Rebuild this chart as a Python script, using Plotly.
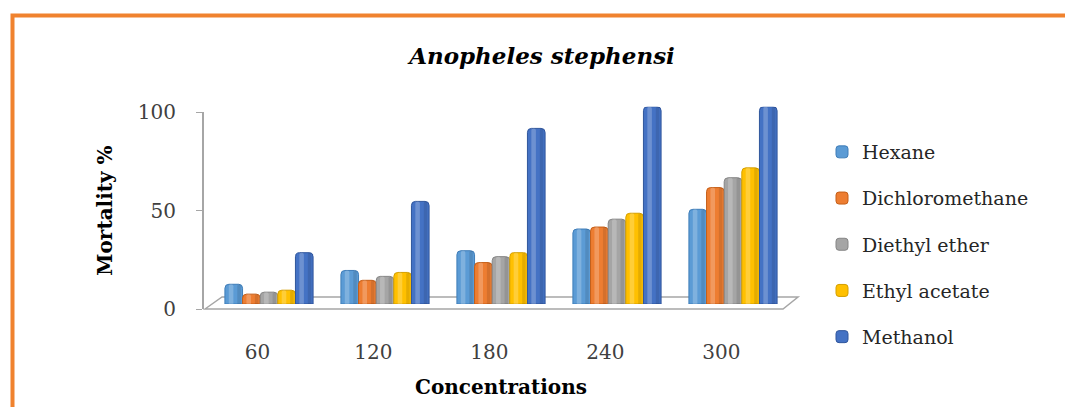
import plotly.graph_objects as go

# Larvicidal activity against Anopheles stephensi
concentrations = ["60", "120", "180", "240", "300"]
hexane = [10, 17, 27, 38, 48]
dichloromethane = [5, 12, 21, 39, 59]
diethyl_ether = [6, 14, 24, 43, 64]
ethyl_acetate = [7, 16, 26, 46, 69]
methanol = [26, 52, 89, 100, 100]

series = [
    ("Hexane", hexane, "#5B9BD5", "#3F7DB8"),
    ("Dichloromethane", dichloromethane, "#ED7D31", "#C55F18"),
    ("Diethyl ether", diethyl_ether, "#A5A5A5", "#858585"),
    ("Ethyl acetate", ethyl_acetate, "#FFC000", "#D49F00"),
    ("Methanol", methanol, "#4472C4", "#2F559C"),
]

W, H = 1065, 407
FONT = "DejaVu Serif"
BARGAP = 0.24


def px_x(v):
    return v / W


def px_y(v):
    return 1 - v / H


idx = list(range(len(concentrations)))

fig = go.Figure()
for name, vals, color, edge in series:
    fig.add_trace(go.Bar(
        x=idx, y=vals, name=name, legendgroup=name,
        marker=dict(color=color, line=dict(color=edge, width=1), cornerradius=4),
        hoverinfo="y+name",
    ))

# cylinder shading: light and dark strips laid over each bar on a twin x axis
slot = (1 - BARGAP) / len(series)
for k, (name, vals, color, edge) in enumerate(series):
    left = -(1 - BARGAP) / 2 + k * slot
    fig.add_trace(go.Bar(
        x=idx, y=vals, xaxis="x2", offset=left + 0.22 * slot, width=0.26 * slot,
        marker=dict(color="rgba(255,255,255,0.22)", line=dict(width=0), cornerradius=2),
        showlegend=False, hoverinfo="skip",
    ))
    fig.add_trace(go.Bar(
        x=idx, y=vals, xaxis="x2", offset=left + 0.70 * slot, width=0.2 * slot,
        marker=dict(color="rgba(0,0,0,0.10)", line=dict(width=0), cornerradius=2),
        showlegend=False, hoverinfo="skip",
    ))

# invisible companion trace that carries the value axis
fig.add_trace(go.Scatter(
    x=idx, y=methanol, yaxis="y2", mode="markers",
    marker=dict(opacity=0), showlegend=False, hoverinfo="skip",
))

# plot geometry (pixels)
x_left, x_right = 211, 791          # category band
y_base, y_top = 304, 106.7          # bar 0 and 100
ax_x, ax_bottom, ax_top = 203, 309, 112  # value axis
depth_dx, depth_dy = 17, 12

shapes = [
    # floor of the chart
    dict(type="path", xref="paper", yref="paper", layer="below",
         path=(f"M{px_x(ax_x + 2)},{px_y(ax_bottom)} "
               f"L{px_x(ax_x + 2 + depth_dx)},{px_y(ax_bottom - depth_dy)} "
               f"L{px_x(x_right + 7)},{px_y(ax_bottom - depth_dy)} "
               f"L{px_x(x_right + 7 - 15)},{px_y(ax_bottom)} Z"),
         line=dict(color="#A6A6A6", width=1.5), fillcolor="rgba(255,255,255,0)"),
    # chart frame
    dict(type="rect", xref="paper", yref="paper",
         x0=px_x(12.5), y0=-0.1, x1=1.1, y1=px_y(15.5),
         line=dict(color="#F0822E", width=4), fillcolor="rgba(0,0,0,0)"),
]

fig.update_layout(
    width=W, height=H, autosize=False,
    margin=dict(l=0, r=0, t=0, b=0, pad=0, autoexpand=False),
    paper_bgcolor="white", plot_bgcolor="rgba(0,0,0,0)",
    barmode="group", bargap=BARGAP, bargroupgap=0,
    font=dict(family=FONT, size=20, color="#262626"),
    title=dict(text="<b><i>Anopheles stephensi</i></b>", x=px_x(542), xanchor="center",
               y=px_y(56), yanchor="middle", automargin=False,
               font=dict(family=FONT, size=23, color="#000000")),
    xaxis=dict(
        domain=[px_x(x_left), px_x(x_right)], range=[-0.5, 4.5],
        tickmode="array", tickvals=[i - 0.1 for i in idx], ticktext=concentrations,
        ticks="outside", ticklen=30, tickcolor="rgba(0,0,0,0)",
        showline=False, showgrid=False, zeroline=False, automargin=False,
        tickfont=dict(family=FONT, size=20, color="#404040"),
        title=dict(text="<b>Concentrations</b>", standoff=16,
                   font=dict(family=FONT, size=20, color="#000000")),
        anchor="y",
    ),
    xaxis2=dict(
        overlaying="x", matches="x", anchor="y", visible=False, automargin=False,
    ),
    yaxis=dict(
        domain=[px_y(y_base), px_y(y_top)], range=[0, 100],
        visible=False, automargin=False,
    ),
    yaxis2=dict(
        domain=[px_y(ax_bottom), px_y(ax_top)], range=[0, 100],
        anchor="free", position=px_x(ax_x), automargin=False,
        tickvals=[0, 50, 100], ticks="outside", ticklen=6, tickcolor="#A6A6A6",
        showline=True, linecolor="#A6A6A6", linewidth=2,
        showgrid=False, zeroline=False,
        ticklabelstandoff=16,
        tickfont=dict(family=FONT, size=20, color="#404040"),
        title=dict(text="<b>Mortality %</b>", standoff=19,
                   font=dict(family=FONT, size=20, color="#000000")),
    ),
    legend=dict(
        x=px_x(822), xanchor="left", y=px_y(133), yanchor="top",
        font=dict(family=FONT, size=19, color="#262626"),
        tracegroupgap=18.5, bgcolor="rgba(0,0,0,0)",
    ),
    shapes=shapes,
)

fig.write_html("out.html")
